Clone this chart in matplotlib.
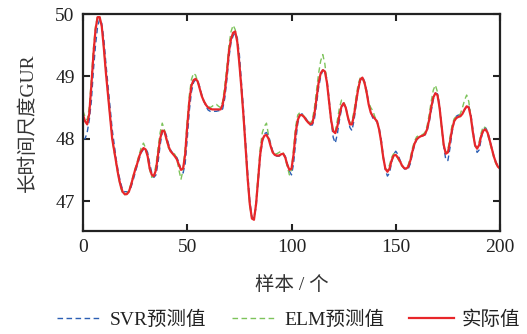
import numpy as np
import matplotlib
matplotlib.use("Agg")
import matplotlib.pyplot as plt

plt.rcParams["font.family"] = ["Liberation Serif", "Noto Sans CJK SC"]
plt.rcParams["axes.unicode_minus"] = False

# ── 数据 ─────────────────────────────────────
samples = np.arange(0, 201)

actual = [
    48.38, 48.28, 48.23, 48.40, 48.85, 49.35, 49.75, 49.95, 49.95, 49.80,
    49.45, 49.05, 48.70, 48.35, 48.00, 47.80, 47.60, 47.40, 47.25, 47.15,
    47.11, 47.11, 47.15, 47.25, 47.38, 47.50, 47.60, 47.72, 47.80, 47.85,
    47.83, 47.72, 47.52, 47.42, 47.40, 47.50, 47.75, 48.00, 48.13, 48.12,
    48.00, 47.88, 47.80, 47.76, 47.72, 47.67, 47.58, 47.50, 47.52, 47.75,
    48.20, 48.60, 48.85, 48.94, 48.96, 48.92, 48.80, 48.68, 48.60, 48.54,
    48.50, 48.48, 48.47, 48.47, 48.47, 48.47, 48.47, 48.55, 48.75, 49.05,
    49.40, 49.60, 49.70, 49.72, 49.55, 49.20, 48.80, 48.35, 47.85, 47.35,
    46.95, 46.72, 46.70, 46.95, 47.35, 47.75, 47.98, 48.05, 48.06, 48.00,
    47.88, 47.78, 47.74, 47.73, 47.73, 47.75, 47.76, 47.70, 47.58, 47.50,
    47.52, 47.75, 48.10, 48.30, 48.38, 48.38, 48.35, 48.30, 48.26, 48.23,
    48.25, 48.40, 48.65, 48.90, 49.05, 49.10, 49.08, 48.90, 48.60, 48.30,
    48.12, 48.09, 48.20, 48.38, 48.52, 48.57, 48.50, 48.35, 48.23, 48.23,
    48.38, 48.60, 48.80, 48.95, 48.98, 48.90, 48.75, 48.55, 48.42, 48.36,
    48.32, 48.28, 48.15, 47.95, 47.70, 47.52, 47.47, 47.52, 47.65, 47.73,
    47.74, 47.70, 47.64, 47.57, 47.53, 47.52, 47.55, 47.65, 47.80, 47.92,
    47.99, 48.02, 48.04, 48.05, 48.07, 48.15, 48.30, 48.50, 48.66, 48.73,
    48.70, 48.50, 48.20, 47.90, 47.76, 47.78, 47.95, 48.15, 48.28, 48.33,
    48.35, 48.36, 48.40, 48.47, 48.52, 48.50, 48.35, 48.10, 47.90, 47.84,
    47.90, 48.05, 48.13, 48.15, 48.10, 47.98, 47.85, 47.72, 47.62, 47.55,
    47.52,
]

svr_pred = [
    48.00, 48.00, 48.10, 48.30, 48.60, 49.10, 49.50, 49.80, 49.92, 49.85,
    49.60, 49.20, 48.85, 48.50, 48.15, 47.90, 47.65, 47.45, 47.30, 47.18,
    47.15, 47.15, 47.15, 47.22, 47.33, 47.45, 47.57, 47.68, 47.78, 47.83,
    47.85, 47.78, 47.60, 47.45, 47.38, 47.42, 47.62, 47.90, 48.10, 48.15,
    48.05, 47.92, 47.82, 47.77, 47.73, 47.70, 47.62, 47.50, 47.45, 47.60,
    48.00, 48.45, 48.75, 48.90, 48.95, 48.93, 48.83, 48.70, 48.60, 48.52,
    48.46, 48.44, 48.43, 48.44, 48.44, 48.45, 48.44, 48.48, 48.65, 48.95,
    49.30, 49.55, 49.65, 49.70, 49.62, 49.35, 48.90, 48.45, 47.95, 47.45,
    47.00, 46.75, 46.72, 46.90, 47.30, 47.70, 47.95, 48.08, 48.10, 48.05,
    47.92, 47.80, 47.74, 47.72, 47.72, 47.74, 47.76, 47.72, 47.60, 47.48,
    47.42, 47.60, 47.95, 48.25, 48.37, 48.40, 48.37, 48.32, 48.27, 48.22,
    48.22, 48.32, 48.55, 48.82, 49.00, 49.10, 49.10, 48.95, 48.65, 48.30,
    48.02, 47.93, 48.08, 48.30, 48.48, 48.57, 48.52, 48.35, 48.18, 48.13,
    48.30, 48.55, 48.78, 48.93, 49.00, 48.92, 48.78, 48.58, 48.42, 48.33,
    48.30, 48.27, 48.18, 48.00, 47.72, 47.50, 47.40, 47.45, 47.62, 47.75,
    47.80, 47.75, 47.66, 47.58, 47.52, 47.50, 47.52, 47.60, 47.76, 47.90,
    47.98, 48.02, 48.04, 48.05, 48.06, 48.12, 48.26, 48.45, 48.63, 48.73,
    48.72, 48.55, 48.22, 47.88, 47.66, 47.65, 47.85, 48.10, 48.28, 48.36,
    48.38, 48.38, 48.40, 48.46, 48.52, 48.52, 48.40, 48.15, 47.90, 47.78,
    47.82, 48.00, 48.15, 48.18, 48.12, 48.00, 47.86, 47.73, 47.63, 47.56,
    47.52,
]

elm_pred = [
    48.45, 48.35, 48.30, 48.50, 48.95, 49.45, 49.80, 49.97, 49.95, 49.80,
    49.45, 49.05, 48.70, 48.35, 48.00, 47.78, 47.58, 47.38, 47.22, 47.12,
    47.10, 47.12, 47.18, 47.28, 47.40, 47.52, 47.63, 47.75, 47.87, 47.93,
    47.85, 47.70, 47.50, 47.38, 47.42, 47.58, 47.85, 48.10, 48.25, 48.15,
    47.98, 47.85, 47.80, 47.78, 47.75, 47.68, 47.50, 47.35, 47.50, 47.85,
    48.30, 48.70, 48.95, 49.05, 49.02, 48.92, 48.80, 48.68, 48.60, 48.55,
    48.52, 48.50, 48.52, 48.55, 48.55, 48.52, 48.50, 48.60, 48.85, 49.15,
    49.50, 49.72, 49.82, 49.75, 49.55, 49.20, 48.75, 48.30, 47.80, 47.30,
    46.92, 46.72, 46.72, 47.00, 47.45, 47.85, 48.10, 48.20, 48.25, 48.05,
    47.88, 47.78, 47.76, 47.76, 47.78, 47.80, 47.78, 47.68, 47.55, 47.42,
    47.50, 47.85, 48.20, 48.38, 48.42, 48.40, 48.36, 48.32, 48.28, 48.25,
    48.30, 48.50, 48.78, 49.05, 49.25, 49.35, 49.20, 48.90, 48.55, 48.25,
    48.10, 48.12, 48.30, 48.50, 48.62, 48.60, 48.50, 48.35, 48.25, 48.28,
    48.45, 48.68, 48.88, 48.98, 48.98, 48.88, 48.72, 48.58, 48.50, 48.45,
    48.35, 48.28, 48.15, 47.92, 47.68, 47.52, 47.50, 47.58, 47.70, 47.76,
    47.74, 47.68, 47.62, 47.56, 47.53, 47.53, 47.58, 47.70, 47.85, 47.96,
    48.03, 48.05, 48.06, 48.07, 48.10, 48.20, 48.38, 48.60, 48.78, 48.86,
    48.75, 48.48, 48.15, 47.88, 47.78, 47.82, 48.02, 48.22, 48.32, 48.36,
    48.37, 48.40, 48.50, 48.62, 48.70, 48.60, 48.35, 48.08, 47.88, 47.86,
    47.95, 48.10, 48.20, 48.17, 48.08, 47.95, 47.82, 47.70, 47.60, 47.54,
    47.52,
]

x_ticks = [0, 50, 100, 150, 200]
y_ticks = [47, 48, 49, 50]

# ── 绘图 ──────────────────────────────────────────
fig = plt.figure(figsize=(5.27, 3.34), dpi=100)
ax = fig.add_axes([0.1575, 0.3084, 0.7913, 0.6496])

ax.plot(samples, svr_pred, color="#2b5fb4", linestyle=(0, (4, 2.5)), linewidth=1.0,
        label="SVR预测值")
ax.plot(samples, elm_pred, color="#7dc35b", linestyle=(0, (4, 2.5)), linewidth=1.0,
        label="ELM预测值")
ax.plot(samples, actual, color="#e8262a", linewidth=1.6, label="实际值")

ax.set_xlim(0, 200)
ax.set_ylim(46.52, 50)
ax.set_xticks(x_ticks)
ax.set_yticks(y_ticks)
ax.tick_params(direction="in", length=5, width=1.5, top=True, right=True,
               labelsize=14, colors="#222222", pad=6)
for sp in ax.spines.values():
    sp.set_linewidth(1.6)
    sp.set_color("#222222")

ax.set_xlabel("样本 / 个", fontsize=14, color="#333333", labelpad=14)
ax.set_ylabel("长时间尺度GUR", fontsize=14, color="#333333", labelpad=13)

fig.legend(loc="center", bbox_to_anchor=(0.548, 0.042), ncol=3, frameon=False,
           fontsize=14, handlelength=2.3, handletextpad=0.4, columnspacing=1.3,
           labelcolor="#222222")

plt.savefig("out.png", dpi=100)
